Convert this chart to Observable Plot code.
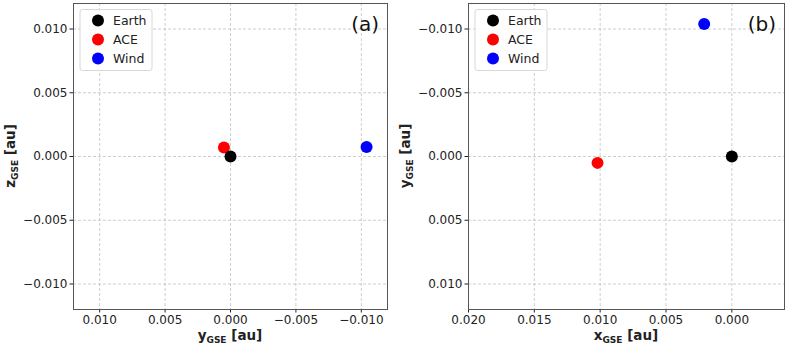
<!DOCTYPE html>
<html>
<head>
<meta charset="utf-8">
<script src="https://cdn.jsdelivr.net/npm/d3@7"></script>
<script src="https://cdn.jsdelivr.net/npm/@observablehq/plot@0.6"></script>
<style>
  html, body { margin: 0; padding: 0; background: #fff; }
  #wrap { display: flex; width: 789px; height: 347px; }
  svg { font-family: "DejaVu Sans", sans-serif; }
</style>
</head>
<body>
<div id="wrap"></div>
<script>
// Data (au, GSE coordinates)
const names  = ["Earth", "ACE", "Wind"];
const colors = ["black", "red", "blue"];
const xGSE   = [0, 0.0102, 0.0021];
const yGSE   = [0, 0.0005, -0.0104];
const zGSE   = [0, 0.0007, 0.00075];

// Tick values
const ticksA_x = [0.01, 0.005, 0, -0.005, -0.01];
const ticksA_y = [0.01, 0.005, 0, -0.005, -0.01];
const ticksB_x = [0.02, 0.015, 0.01, 0.005, 0];
const ticksB_y = [-0.01, -0.005, 0, 0.005, 0.01];

const data = names.map((n, i) => ({name: n, color: colors[i], x: xGSE[i], y: yGSE[i], z: zGSE[i]}));
const drawOrder = [...data].reverse(); // Earth drawn on top

const fmt = d3.format(".3f");
const gridStyle = {stroke: "#b0b0b0", strokeOpacity: 0.8, strokeDasharray: "3,2", strokeWidth: 0.8};

function panel({width, marginLeft, marginRight, xDomain, yDomain, xTicks, yTicks, xKey, yKey, xLab, yLab, tag}) {
  const svg = Plot.plot({
    width, height: 347,
    marginLeft, marginRight, marginTop: 3, marginBottom: 38,
    style: {fontFamily: "DejaVu Sans, sans-serif", fontSize: "12px", color: "#222", background: "white"},
    x: {domain: xDomain, label: null},
    y: {domain: yDomain, label: null},
    marks: [
      Plot.gridX(xTicks, gridStyle),
      Plot.gridY(yTicks, gridStyle),
      Plot.axisX(xTicks, {tickFormat: fmt, tickSize: 3.5, tickPadding: 2.5, fontSize: 12, label: null}),
      Plot.axisY(yTicks, {tickFormat: fmt, tickSize: 3.5, tickPadding: 2.5, fontSize: 12, label: null}),
      Plot.dot(drawOrder, {x: xKey, y: yKey, r: 6, fill: "color", stroke: null}),
      Plot.frame({stroke: "#555", strokeWidth: 1})
    ]
  });
  const s = d3.select(svg);
  const left = marginLeft, right = width - marginRight, top = 3, bottom = 347 - 38;
  const cx = (left + right) / 2, cy = (top + bottom) / 2;

  // axis labels with subscripts
  function label(g, main) {
    g.attr("font-weight", "bold").attr("font-size", 13.5).attr("fill", "#222").attr("text-anchor", "middle");
    g.append("tspan").text(main);
    g.append("tspan").attr("font-size", 9).attr("dy", 3).text("GSE");
    g.append("tspan").attr("dy", -3).text(" [au]");
  }
  label(s.append("text").attr("x", cx).attr("y", 340), xLab);
  label(s.append("text").attr("transform", `translate(${left - 58},${cy}) rotate(-90)`), yLab);

  // legend
  const lg = s.append("g").attr("transform", `translate(${left + 7},${top + 6.5})`);
  lg.append("rect").attr("width", 72).attr("height", 61).attr("rx", 2.5)
    .attr("fill", "white").attr("fill-opacity", 0.85).attr("stroke", "#d8d8d8");
  names.forEach((n, i) => {
    lg.append("circle").attr("cx", 18).attr("cy", 11 + i * 19).attr("r", 6).attr("fill", colors[i]);
    lg.append("text").attr("x", 33).attr("y", 11 + i * 19).attr("dy", "0.35em")
      .attr("text-anchor", "start").attr("font-size", 12.5).attr("fill", "#222").text(n);
  });

  // panel tag
  s.append("text").attr("x", right - 8).attr("y", top + 21).attr("dy", "0.35em")
    .attr("text-anchor", "end").attr("font-size", 20).attr("fill", "#111").text(tag);
  return svg;
}

const wrap = document.getElementById("wrap");
wrap.appendChild(panel({
  width: 395, marginLeft: 73, marginRight: 8,
  xDomain: [0.012, -0.012], yDomain: [-0.012, 0.012],
  xTicks: ticksA_x, yTicks: ticksA_y, xKey: "y", yKey: "z",
  xLab: "y", yLab: "z", tag: "(a)"
}));
wrap.appendChild(panel({
  width: 394, marginLeft: 73, marginRight: 5,
  xDomain: [0.020, -0.004], yDomain: [0.012, -0.012],
  xTicks: ticksB_x, yTicks: ticksB_y, xKey: "x", yKey: "y",
  xLab: "x", yLab: "y", tag: "(b)"
}));
</script>
</body>
</html>
